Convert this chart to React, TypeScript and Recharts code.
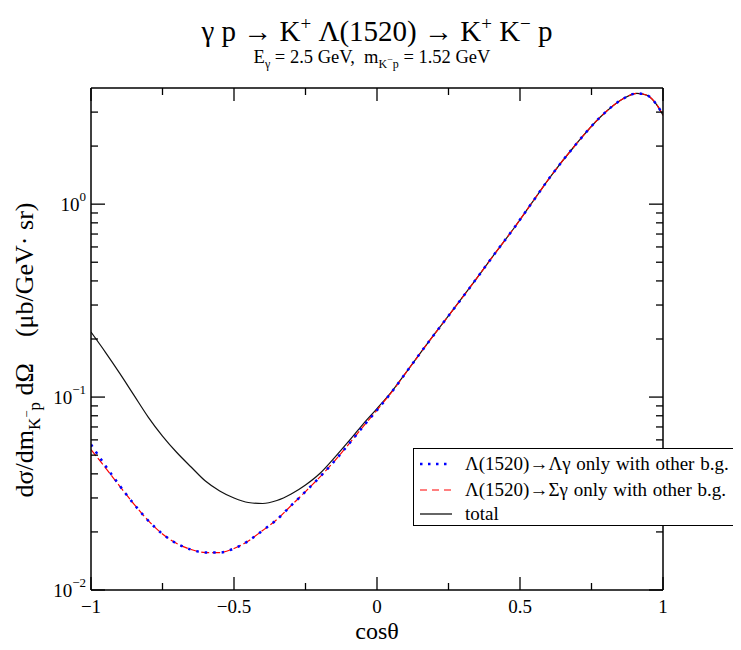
import React from "react";
import { LineChart, Line, XAxis, YAxis } from "recharts";

// cos(theta) ticks
const X_TICKS = [-1, -0.75, -0.5, -0.25, 0, 0.25, 0.5, 0.75, 1];
const X_MAJOR = [-1, -0.5, 0, 0.5, 1];
const X_LABELS = ["\u22121", "\u22120.5", "0", "0.5", "1"];

// log y ticks
const Y_TICKS = [
  0.01, 0.02, 0.03, 0.04, 0.05, 0.06, 0.07, 0.08, 0.09,
  0.1, 0.2, 0.3, 0.4, 0.5, 0.6, 0.7, 0.8, 0.9,
  1, 2, 3,
];
const Y_MAJOR = [0.01, 0.1, 1];
const Y_EXP = ["\u22122", "\u22121", "0"];

// forward region, where all three curves coincide
const FWD_X = [0.1, 0.187, 0.257, 0.344, 0.408, 0.478, 0.542, 0.606, 0.693, 0.781, 0.862, 0.909, 0.944, 0.979, 1];
const FWD_Y = [0.1331, 0.199, 0.272, 0.404, 0.544, 0.748, 1.018, 1.386, 2.02, 2.83, 3.53, 3.75, 3.67, 3.26, 2.89];

// total
const TOTAL_X = [-1, -0.95, -0.9, -0.85, -0.8, -0.75, -0.7, -0.65, -0.6, -0.55, -0.5, -0.45, -0.4, -0.35, -0.3, -0.25, -0.2, -0.15, -0.1, -0.05, 0, 0.05];
const TOTAL_Y = [0.2172, 0.1711, 0.1331, 0.1024, 0.0788, 0.0628, 0.0516, 0.0434, 0.0367, 0.0326, 0.02997, 0.02841, 0.02807, 0.02909, 0.03144, 0.035, 0.04015, 0.0483, 0.05882, 0.07204, 0.08717, 0.10615];

// Lambda(1520) -> Sigma gamma only with other b.g.
const SIGMA_X = [-1, -0.95, -0.9, -0.85, -0.8, -0.75, -0.7, -0.65, -0.6, -0.55, -0.5, -0.45, -0.4, -0.35, -0.3, -0.25, -0.2, -0.15, -0.1, -0.05, 0, 0.05];
const SIGMA_Y = [0.05345, 0.04312, 0.03458, 0.0279, 0.02291, 0.01951, 0.01741, 0.01621, 0.01564, 0.01564, 0.01641, 0.01795, 0.02034, 0.02319, 0.02741, 0.03238, 0.0385, 0.04633, 0.05675, 0.06992, 0.08562, 0.1055];

// Lambda(1520) -> Lambda gamma only with other b.g.
const LAMBDA_X = [-1, -0.95, -0.9, -0.85, -0.8, -0.75, -0.7, -0.65, -0.6, -0.55, -0.5, -0.45, -0.4, -0.35, -0.3, -0.25, -0.2, -0.15, -0.1, -0.05, 0, 0.05];
const LAMBDA_Y = [0.05675, 0.04417, 0.03479, 0.0279, 0.02291, 0.01951, 0.01741, 0.01621, 0.01564, 0.01564, 0.01641, 0.01795, 0.02034, 0.02319, 0.02741, 0.03238, 0.0385, 0.04633, 0.05675, 0.06992, 0.08562, 0.1055];

const zip = (xs: number[], ys: number[]) =>
  xs.map((x, i) => ({ x, v: ys[i] })).concat(FWD_X.map((x, i) => ({ x, v: FWD_Y[i] })));
const totalData = zip(TOTAL_X, TOTAL_Y);
const sigmaData = zip(SIGMA_X, SIGMA_Y);
const lambdaData = zip(LAMBDA_X, LAMBDA_Y);

const FONT = "'Liberation Serif', 'DejaVu Serif', serif";
const AX = "#000";

const isIn = (arr: number[], v: number) => arr.findIndex((a) => Math.abs(a - v) < 1e-9);

function BottomTick(props: any) {
  const { x, y, payload } = props;
  const idx = isIn(X_MAJOR, payload.value);
  const len = idx >= 0 ? 13 : 7;
  return (
    <g>
      <line x1={x} x2={x} y1={y} y2={y - len} stroke={AX} strokeWidth={1.3} />
      {idx >= 0 && (
        <text x={x} y={y + 23} textAnchor="middle" fontFamily={FONT} fontSize={19} fill="#000">
          {X_LABELS[idx]}
        </text>
      )}
    </g>
  );
}

function TopTick(props: any) {
  const { x, y, payload } = props;
  const idx = isIn(X_MAJOR, payload.value);
  const len = idx >= 0 ? 13 : 7;
  return <line x1={x} x2={x} y1={y} y2={y + len} stroke={AX} strokeWidth={1.3} />;
}

function LeftTick(props: any) {
  const { x, y, payload } = props;
  const idx = isIn(Y_MAJOR, payload.value);
  const len = idx >= 0 ? 14 : 7;
  return (
    <g>
      <line x1={x} x2={x + len} y1={y} y2={y} stroke={AX} strokeWidth={1.3} />
      {idx >= 0 && (
        <text x={x - 5} y={y + 7} textAnchor="end" fontFamily={FONT} fontSize={19} fill="#000">
          10
          <tspan dy={-10} fontSize={13}>{Y_EXP[idx]}</tspan>
        </text>
      )}
    </g>
  );
}

function RightTick(props: any) {
  const { x, y, payload } = props;
  const idx = isIn(Y_MAJOR, payload.value);
  const len = idx >= 0 ? 14 : 7;
  return <line x1={x} x2={x - len} y1={y} y2={y} stroke={AX} strokeWidth={1.3} />;
}

function LegendBox() {
  const row = (sample: React.ReactNode, label: React.ReactNode, top: number) => (
    <div style={{ position: "absolute", left: 0, top, height: 24, width: "100%" }}>
      <svg width={40} height={24} style={{ position: "absolute", left: 0, top: 0 }}>
        {sample}
      </svg>
      <div
        style={{
          position: "absolute",
          left: 51,
          top: 0,
          lineHeight: "24px",
          fontFamily: FONT,
          fontSize: 19,
          wordSpacing: 1,
          whiteSpace: "nowrap",
          color: "#000",
        }}
      >
        {label}
      </div>
    </div>
  );
  return (
    <div
      style={{
        position: "absolute",
        left: 405,
        top: 440,
        width: 321,
        height: 76,
        border: "1.5px solid #000",
        background: "#fff",
        boxSizing: "content-box",
      }}
    >
      {row(
        <line x1={6} x2={38} y1={12} y2={12} stroke="#0000ff" strokeWidth={2.5} strokeDasharray="2.5 5.5" />,
        <span>{"\u039B(1520)\u2192\u039B\u03B3 only with other b.g."}</span>,
        3
      )}
      {row(
        <line x1={6} x2={38} y1={12} y2={12} stroke="#ff0000" strokeWidth={1.2} strokeDasharray="7 5" />,
        <span>{"\u039B(1520)\u2192\u03A3\u03B3 only with other b.g."}</span>,
        29
      )}
      {row(
        <line x1={6} x2={38} y1={12} y2={12} stroke="#000" strokeWidth={1.2} />,
        <span>total</span>,
        52.5
      )}
    </div>
  );
}

function Overlay() {
  return (
    <svg width={725} height={640} style={{ position: "absolute", left: 0, top: 0, pointerEvents: "none" }}>
      <text x={369} y={33} textAnchor="middle" fontFamily={FONT} fontSize={29} fill="#000">
        {"\u03B3 p \u2192 K"}
        <tspan dy={-11} fontSize={19}>+</tspan>
        <tspan dy={11}>{" \u039B(1520) \u2192 K"}</tspan>
        <tspan dy={-11} fontSize={19}>+</tspan>
        <tspan dy={11}>{" K"}</tspan>
        <tspan dy={-11} fontSize={19}>{"\u2212"}</tspan>
        <tspan dy={11}>{" p"}</tspan>
      </text>
      <text x={364} y={55} textAnchor="middle" fontFamily={FONT} fontSize={18.5} fill="#000">
        E
        <tspan dy={5} fontSize={12}>{"\u03B3"}</tspan>
        <tspan dy={-5}>{" = 2.5 GeV,\u00A0\u00A0m"}</tspan>
        <tspan dy={5} fontSize={12}>K</tspan>
        <tspan dy={-5} fontSize={10}>{"\u2212"}</tspan>
        <tspan dy={5} fontSize={12}>p</tspan>
        <tspan dy={-5}>{" = 1.52 GeV"}</tspan>
      </text>
      <text
        transform="translate(25,342) rotate(-90)"
        x={0}
        y={0}
        textAnchor="middle"
        fontFamily={FONT}
        fontSize={26}
        fill="#000"
      >
        {"d\u03C3/dm"}
        <tspan dy={7} fontSize={17}>K</tspan>
        <tspan dy={-9} fontSize={13}>{"\u2212"}</tspan>
        <tspan dy={9} fontSize={17}>p</tspan>
        <tspan dy={-7}>{" d\u03A9\u00A0\u00A0\u00A0\u00A0(\u03BCb/GeV\u00B7 sr)"}</tspan>
      </text>
      <text x={369} y={631} textAnchor="middle" fontFamily={FONT} fontSize={24} fill="#000">
        {"cos\u03B8"}
      </text>
    </svg>
  );
}

export default function App() {
  return (
    <div style={{ position: "relative", width: 725, height: 634 }}>
      <LineChart
        width={725}
        height={634}
        margin={{ top: 79, right: 69, bottom: 51, left: 82 }}
        style={{ background: "#fff" }}
      >
        <XAxis
          xAxisId="b"
          type="number"
          dataKey="x"
          domain={[-1, 1]}
          ticks={X_TICKS}
          interval={0}
          allowDataOverflow
          height={1}
          tickSize={0}
          tickMargin={0}
          tickLine={false}
          axisLine={{ stroke: AX, strokeWidth: 1.5 }}
          tick={<BottomTick />}
        />
        <XAxis
          xAxisId="t"
          orientation="top"
          type="number"
          dataKey="x"
          domain={[-1, 1]}
          ticks={X_TICKS}
          interval={0}
          allowDataOverflow
          height={1}
          tickSize={0}
          tickMargin={0}
          tickLine={false}
          axisLine={{ stroke: AX, strokeWidth: 1.5 }}
          tick={<TopTick />}
        />
        <YAxis
          yAxisId="l"
          scale="log"
          type="number"
          domain={[0.01, 4]}
          ticks={Y_TICKS}
          interval={0}
          allowDataOverflow
          width={1}
          tickSize={0}
          tickMargin={0}
          tickLine={false}
          axisLine={{ stroke: AX, strokeWidth: 1.5 }}
          tick={<LeftTick />}
        />
        <YAxis
          yAxisId="r"
          orientation="right"
          scale="log"
          type="number"
          domain={[0.01, 4]}
          ticks={Y_TICKS}
          interval={0}
          allowDataOverflow
          width={1}
          tickSize={0}
          tickMargin={0}
          tickLine={false}
          axisLine={{ stroke: AX, strokeWidth: 1.5 }}
          tick={<RightTick />}
        />
        <Line
          xAxisId="b"
          yAxisId="l"
          data={totalData}
          dataKey="v"
          type="monotone"
          stroke="#111"
          strokeWidth={1.2}
          dot={false}
          isAnimationActive={false}
        />
        <Line
          xAxisId="b"
          yAxisId="l"
          data={sigmaData}
          dataKey="v"
          type="monotone"
          stroke="#ff0000"
          strokeWidth={1.2}
          strokeDasharray="8 3"
          dot={false}
          isAnimationActive={false}
        />
        <Line
          xAxisId="b"
          yAxisId="l"
          data={lambdaData}
          dataKey="v"
          type="monotone"
          stroke="#0000ff"
          strokeWidth={2.5}
          strokeDasharray="2.5 6"
          dot={false}
          isAnimationActive={false}
        />
      </LineChart>
      <Overlay />
      <LegendBox />
    </div>
  );
}
